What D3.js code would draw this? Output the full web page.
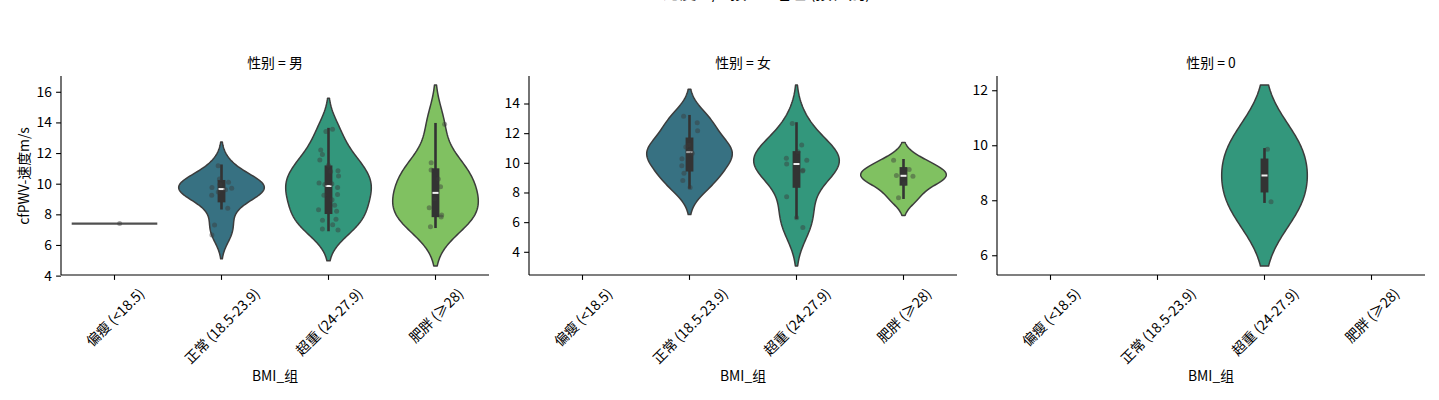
<!DOCTYPE html>
<html><head><meta charset="utf-8">
<script src="https://cdn.jsdelivr.net/npm/d3@7"></script>
<style>
body{margin:0;background:#fff}
svg{display:block}
text{font-family:"Noto Sans CJK SC","Noto Sans",sans-serif;fill:#000}
</style>
</head><body><svg id="c" width="1439" height="400"></svg>
<script>
// ---------------- data ----------------
const categories = ["偏瘦 (<18.5)", "正常 (18.5-23.9)", "超重 (24-27.9)", "肥胖 (≥28)"];
const facetLabels = ["男", "女", "0"];
const yLabel = "cfPWV-速度m/s";
const xLabel = "BMI_组";
const mainTitle = "cfPWV-速度m/s 按 BMI_组 (按性别)";

// values per BMI group, per facet (男 / 女 / 0)
const maleThin   = [7.4];
const maleNormal = [6.65, 7.3, 8.4, 9.25, 9.45, 9.6, 9.7, 9.75, 9.95, 10.1, 10.3, 11.17];
const maleOver   = [6.98, 7.05, 7.32, 7.62, 7.68, 8.2, 8.3, 8.6, 8.95, 9.25, 9.3, 9.75,
                    9.95, 10.0, 10.05, 10.5, 10.8, 10.85, 11.2, 11.55, 11.9, 12.2, 13.4, 13.56];
const maleObese  = [7.19, 7.83, 7.95, 8.43, 9.0, 9.8, 10.3, 10.9, 11.37, 13.88];

const femaleThin   = [];
const femaleNormal = [8.34, 8.8, 9.3, 9.8, 10.28, 10.65, 10.8, 11.07, 11.2, 12.17, 12.71, 13.14];
const femaleOver   = [5.64, 6.3, 7.71, 9.45, 9.5, 9.92, 10.17, 10.3, 10.75, 11.2, 12.65];
const femaleObese  = [7.65, 8.6, 9.1, 9.15, 9.55, 10.17];

const zeroThin   = [];
const zeroNormal = [];
const zeroOver   = [7.95, 9.85];
const zeroObese  = [];

const yTicksMale   = [4, 6, 8, 10, 12, 14, 16];
const yTicksFemale = [4, 6, 8, 10, 12, 14];
const yTicksZero   = [6, 8, 10, 12];

const palette = ["#4a4f85", "#377182", "#33977c", "#80c161"];

// --------------- layout ---------------
const svg = d3.select("#c");
const plotTop = 76, plotBottom = 275;
const panelLeft = [61, 529, 997], panelW = 428;
const facets = [
  {label: facetLabels[0], groups: [maleThin, maleNormal, maleOver, maleObese], ticks: yTicksMale},
  {label: facetLabels[1], groups: [femaleThin, femaleNormal, femaleOver, femaleObese], ticks: yTicksFemale},
  {label: facetLabels[2], groups: [zeroThin, zeroNormal, zeroOver, zeroObese], ticks: yTicksZero}
];
const FS = 13.9;
const edge = "#3c3c3c";

// title (mostly above the canvas, as in the original)
svg.append("text").attr("x", 740).attr("y", -1).attr("text-anchor", "middle")
  .attr("font-size", 16.7).text(mainTitle);

function kde(vals) {
  const n = vals.length;
  const sd = d3.deviation(vals);
  const bw = sd * Math.pow(n, -0.2);
  const lo = d3.min(vals) - 2 * bw, hi = d3.max(vals) + 2 * bw;
  const grid = d3.range(100).map(i => lo + (hi - lo) * i / 99);
  const dens = grid.map(g => d3.sum(vals, v => Math.exp(-0.5 * ((g - v) / bw) ** 2)));
  const mx = d3.max(dens);
  return grid.map((g, i) => ({v: g, d: dens[i] / mx}));
}

const rng = d3.randomUniform.source(d3.randomLcg(0.4242))(-0.1, 0.1);

facets.forEach((f, fi) => {
  const x0 = panelLeft[fi];
  const g = svg.append("g");
  const x = d3.scaleBand().domain(categories).range([x0, x0 + panelW]).paddingInner(0).paddingOuter(0);
  const bandW = x.bandwidth();
  const shapes = f.groups.map(vals => vals.length >= 2 ? kde(vals) : null);
  let lo = Infinity, hi = -Infinity;
  f.groups.forEach((vals, i) => {
    if (!vals.length) return;
    if (shapes[i]) { lo = Math.min(lo, shapes[i][0].v); hi = Math.max(hi, shapes[i][shapes[i].length - 1].v); }
    else { lo = Math.min(lo, vals[0]); hi = Math.max(hi, vals[0]); }
  });
  const pad = (hi - lo) * 0.05;
  const y = d3.scaleLinear().domain([lo - pad, hi + pad]).range([plotBottom, plotTop]);

  f.groups.forEach((vals, i) => {
    if (!vals.length) return;
    const cx = x(categories[i]) + bandW / 2;
    const half = bandW * 0.4;
    if (shapes[i]) {
      const area = d3.area().y(d => y(d.v)).x0(d => cx - d.d * half).x1(d => cx + d.d * half);
      g.append("path").attr("d", area(shapes[i]) + "Z").attr("fill", palette[i])
        .attr("stroke", edge).attr("stroke-width", 1.5).attr("stroke-linejoin", "round");
      const s = vals.slice().sort(d3.ascending);
      const q1 = d3.quantile(s, 0.25), q3 = d3.quantile(s, 0.75), med = d3.quantile(s, 0.5);
      const iqr = q3 - q1;
      const wlo = d3.min(s.filter(v => v >= q1 - 1.5 * iqr));
      const whi = d3.max(s.filter(v => v <= q3 + 1.5 * iqr));
      g.append("line").attr("x1", cx).attr("x2", cx).attr("y1", y(whi) - 1.3).attr("y2", y(wlo) + 1.3)
        .attr("stroke", "#333").attr("stroke-width", 2.6);
      g.append("rect").attr("x", cx - 3.9).attr("width", 7.8)
        .attr("y", y(q3) - 3.9).attr("height", y(q1) - y(q3) + 7.8).attr("fill", "#333");
      g.append("rect").attr("x", cx - 3).attr("width", 6).attr("y", y(med) - 1).attr("height", 2)
        .attr("fill", "#f0f0f0");
    } else {
      g.append("line").attr("x1", cx - half).attr("x2", cx + half)
        .attr("y1", y(vals[0])).attr("y2", y(vals[0]))
        .attr("stroke", "#505050").attr("stroke-width", 2.2);
    }
  });
  f.groups.forEach((vals, i) => {
    const cx = x(categories[i]) + bandW / 2;
    vals.forEach(v => {
      g.append("circle").attr("cx", cx + rng() * bandW).attr("cy", y(v)).attr("r", 2.5)
        .attr("fill", "#3a3a3a").attr("fill-opacity", 0.45);
    });
  });

  const ya = g.append("g").attr("transform", `translate(${x0},0)`)
    .call(d3.axisLeft(y).tickValues(f.ticks).tickSize(4.9).tickPadding(4.2).tickFormat(d3.format("d")));
  ya.select(".domain").attr("d", `M0,${plotTop}V${plotBottom}`).attr("stroke-width", 1.1);
  ya.selectAll(".tick line").attr("stroke-width", 1.1);
  ya.selectAll("text").attr("font-size", FS).attr("font-family", null);

  const xa = g.append("g").attr("transform", `translate(0,${plotBottom})`)
    .call(d3.axisBottom(x).tickSize(4.9).tickFormat(""));
  xa.select(".domain").attr("d", `M${x0},0H${x0 + panelW}`).attr("stroke-width", 1.1);
  xa.selectAll(".tick line").attr("stroke-width", 1.1);

  categories.forEach(c => {
    const cx = x(c) + bandW / 2;
    const t = g.append("text").attr("font-size", FS).attr("text-anchor", "middle")
      .attr("dominant-baseline", "central").text(c);
    const L = t.node().getComputedTextLength();
    const Hh = FS * 1.15;
    const off = (L + Hh) * Math.SQRT1_2 / 2;
    t.attr("transform", `translate(${cx},${plotBottom + 9.7 + off}) rotate(-45)`);
  });

  g.append("text").attr("x", x0 + panelW / 2).attr("y", 381).attr("text-anchor", "middle")
    .attr("font-size", FS).text(xLabel);
  g.append("text").attr("x", x0 + panelW / 2).attr("y", 68).attr("text-anchor", "middle")
    .attr("font-size", FS).text("性别 = " + f.label);
});

svg.append("text").attr("transform", "translate(23,176) rotate(-90)").attr("text-anchor", "middle")
  .attr("dominant-baseline", "central").attr("font-size", FS).text(yLabel);
</script>
</body></html>
